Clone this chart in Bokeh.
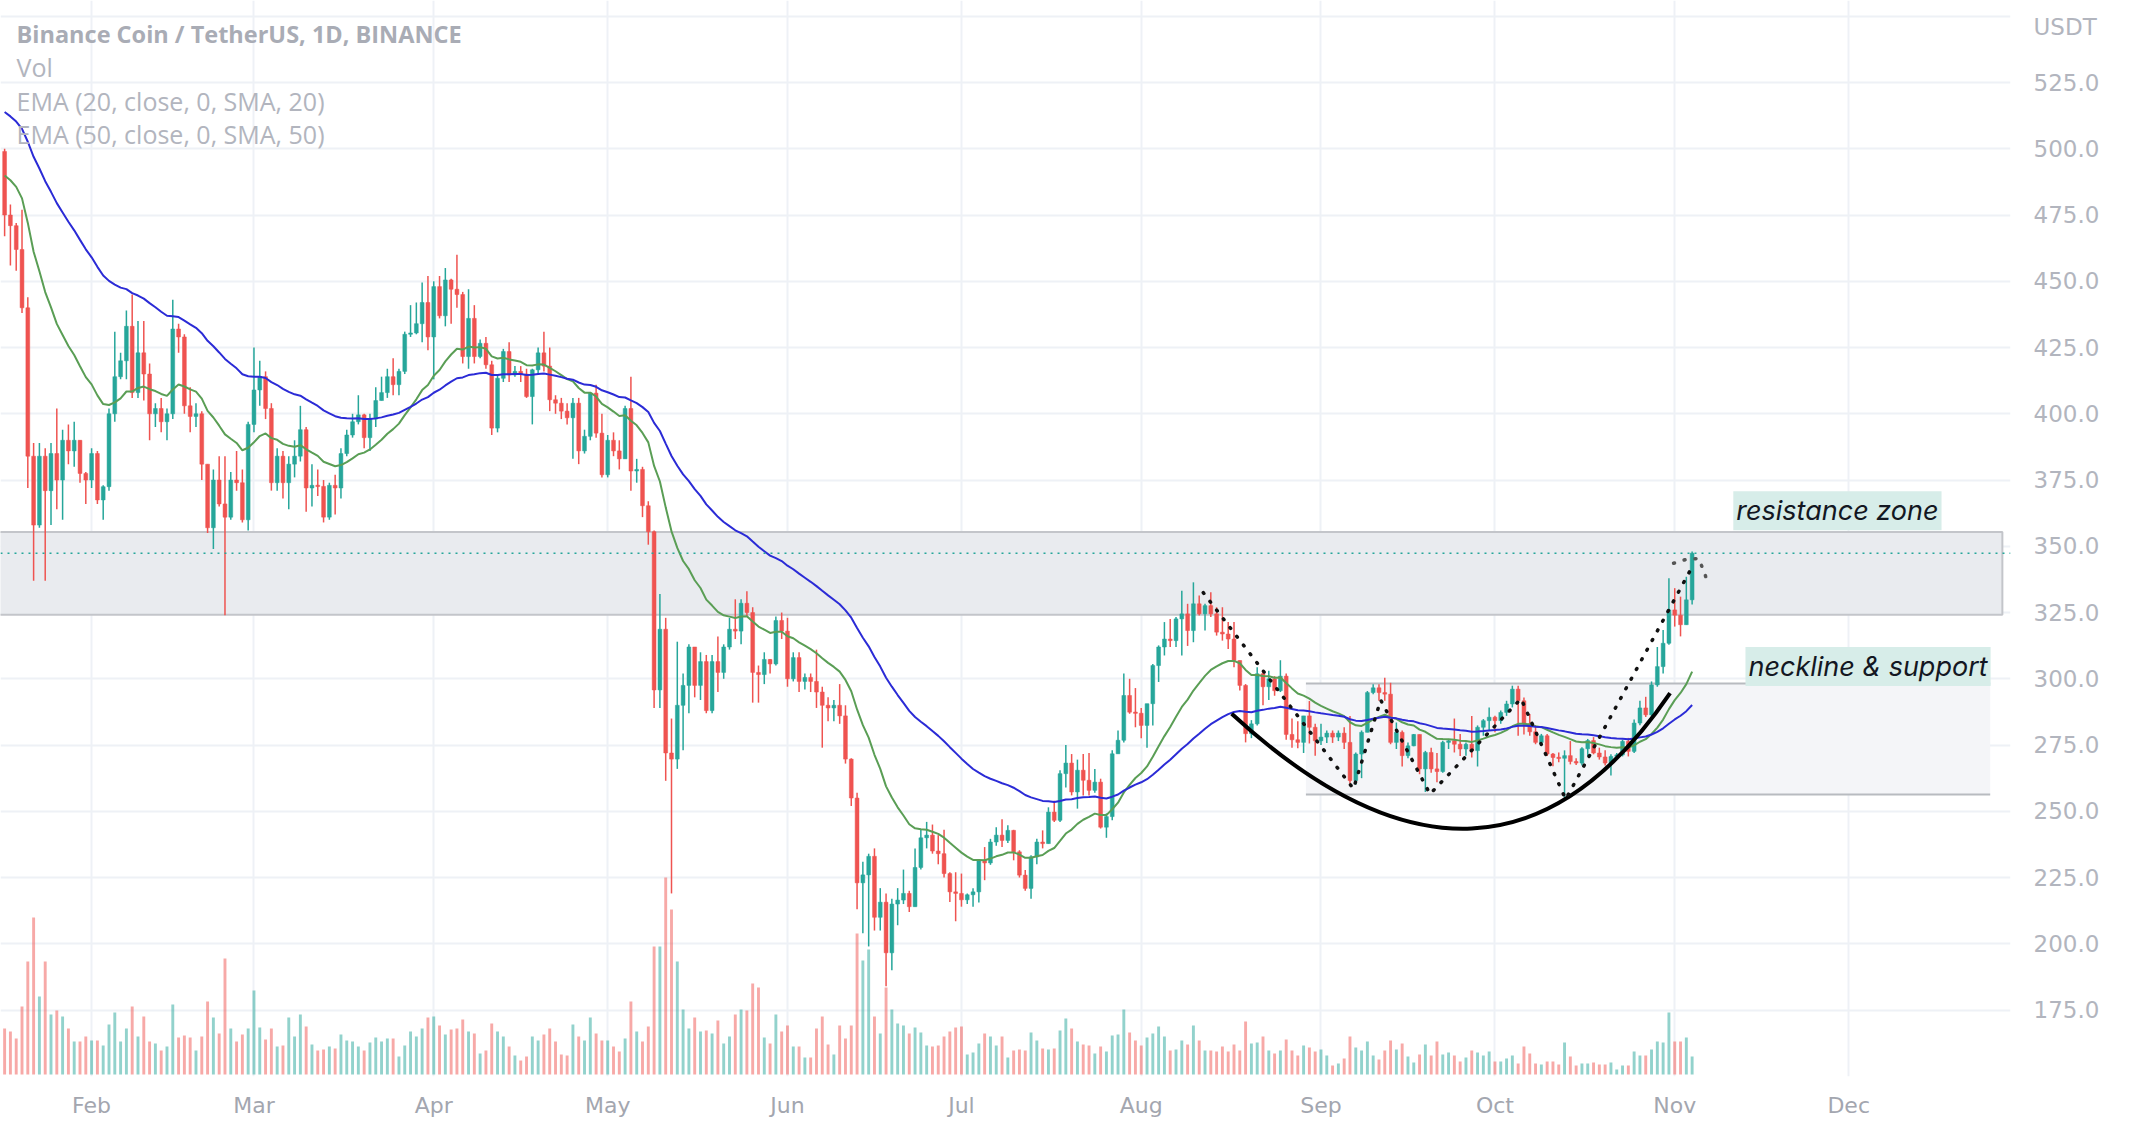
import numpy as np
import pandas as pd
from bokeh.plotting import figure
from bokeh.models import Range1d, FixedTicker, Label, Span, PrintfTickFormatter
from bokeh.embed import file_html
from bokeh.resources import INLINE

# ---------------- data (BNB/USDT daily, 2022-01-17 .. 2022-11-04) ----------------
first_open = 499.0
closes = [
    475, 471, 462, 440, 384, 358, 384, 371, 385, 375, 390, 386, 390, 377.5, 375,
    385, 367.5, 372.5, 400, 414, 420, 433, 408, 423, 415,
    400, 402, 397, 400, 432, 429, 403, 399, 400, 381,
    357, 375, 366, 361, 375, 374, 360, 396,
    409, 414, 402, 374, 384, 374, 381, 384, 394, 372, 373, 372.6,
    361, 373, 372, 385, 392, 397, 399.6, 391, 398, 405,
    408, 414, 411, 416, 430, 430.5, 434, 442, 429, 448,
    437, 450.5, 447, 445, 421.6, 436, 421.6, 426.6, 418.5, 394.6,
    413.4, 423.5, 414.7, 416, 415, 406.5, 416.6, 423, 418, 405.3,
    404, 401, 398.5, 404, 386, 391.5, 407.8, 392.7, 377, 390,
    386, 383, 402, 378.4, 379, 365.3, 355.5, 295.8, 318.7, 272,
    269.7, 290, 297.5, 312, 297.5, 306.5, 288, 306.5, 302.4, 312,
    318.7, 318, 328.5, 325, 302.4, 301.6, 307.3, 305.6, 322, 318,
    300, 308, 299, 300.5, 299, 295, 290, 289, 290, 286,
    269.7, 255, 223, 226, 233, 210, 215.7, 196.6, 215, 216.5,
    219, 214, 228.8, 240, 241, 235, 234, 226.5, 219.6, 219,
    216.6, 218.5, 219.6, 231.5, 230.5, 238.4, 241, 239, 242.8, 234.7,
    225.9, 220.9, 232.8, 238.4, 237.8, 249.7, 246.6, 264.2, 268.2, 257.3,
    265.5, 261.7, 257.9, 261, 244, 248, 271.7, 276.8, 293.7, 287.4,
    287, 282.4, 290.6, 305, 312, 315, 314.4, 322.6, 324.5, 318.2,
    328.3, 324.5, 327.6, 324.5, 317.6, 316.9, 315, 306.9, 297.5, 279.3,
    283, 301.9, 297, 300, 295.5, 301, 279, 277, 276, 286,
    281.7, 276.6, 278, 279.5, 278, 279.5, 276, 261.6, 271.6, 279.8,
    294.8, 296.6, 294.8, 294.2, 276, 279.8, 271, 274.7, 279, 266,
    272.2, 266, 265, 276, 276.6, 275.3, 273.5, 275.3, 272.9, 281.7,
    284.2, 285.5, 284.2, 287.3, 290.5, 296.1, 291.7, 283, 280, 276,
    278.5, 271.6, 270.3, 270, 271, 268.8, 268.2, 273.6, 276.7, 272,
    270.5, 268.2, 270.7, 271.3, 276.4, 272.6, 283.3, 289, 286.4, 297.7,
    304.6, 313.4, 326, 324, 320.4, 329.8, 347.4,
]
highs = [
    500, 479, 472, 477, 444, 389, 389, 387, 389, 402, 394, 396, 397, 390, 378,
    387, 386, 373, 402, 431, 423, 439, 445, 435, 435,
    419, 404, 406, 402, 443, 434, 430, 410, 404, 401,
    381, 379, 384, 384, 378, 386, 379, 397,
    425, 420, 416, 404, 387, 386, 384, 390, 403, 395, 381, 379,
    375, 374, 377, 387, 394, 400, 407, 400, 400, 410,
    414, 417, 421, 417, 431, 441, 442, 449.5, 452, 450,
    452, 455, 451, 460, 446, 447, 441, 428, 429, 420,
    415, 424.5, 427, 418, 418, 417, 417, 425, 431, 425,
    407, 406, 404, 406, 406, 394, 408, 411, 400, 392,
    393, 390, 403, 414, 383, 380, 367, 356, 332, 323,
    285, 314, 302, 313, 312, 310, 309, 309, 316, 313,
    323, 330, 330, 333, 327, 305, 310, 307.5, 323.5, 325,
    323, 310, 310, 302, 302, 311, 297, 293, 292, 298,
    290, 270, 257, 231, 234, 236, 221, 219, 217, 221,
    228, 220, 236, 243, 246, 245, 241, 243, 227, 227,
    226.5, 219, 221, 232, 236.5, 239.6, 244, 247, 244.7, 243,
    235.3, 227.8, 233.4, 239.6, 242.8, 251.5, 254, 265.5, 275, 271.6,
    269.5, 271.6, 272, 266, 262.3, 249.2, 273, 280.5, 302, 300,
    296.5, 289, 290.6, 305.6, 312.6, 321.4, 322.6, 323.3, 333.2, 328.3,
    336.4, 331.4, 328.3, 332.7, 327, 327, 321.4, 321.4, 306.9, 298,
    284.4, 304.4, 303, 303, 301, 307, 302, 285, 284, 286,
    291.6, 283, 283, 280.5, 280.5, 280.5, 281.7, 286, 272.2, 280.5,
    295.4, 297.9, 297.9, 300.4, 298.5, 283.5, 280.5, 276, 279.2, 279,
    272.8, 274, 272, 276.6, 277.3, 285, 279.2, 276, 286, 282.4,
    284.8, 289.2, 286.1, 288, 291.7, 297.4, 297.4, 292.9, 286.7, 282.4,
    279.2, 279.2, 272, 272.2, 273, 276.5, 270, 274.2, 277.3, 278,
    274, 273, 271.5, 272, 277, 277.7, 284.6, 291.7, 293.2, 299,
    312, 318.4, 337.9, 334.2, 331, 338.5, 348,
]
lows = [
    467, 456, 454, 438, 372, 337, 357, 337, 358, 364, 360, 381, 380, 374, 366,
    372, 366, 360, 371, 397, 413, 413, 406, 406, 405,
    390, 395, 393, 390, 398, 423, 400, 393, 395, 375,
    355, 349, 365, 324, 360, 371, 359, 356,
    393, 403, 398, 371, 371, 368, 364, 376, 382, 363, 365, 369,
    359, 360, 362, 368, 384, 391, 396, 387, 386, 395,
    405, 406, 407, 407, 415, 429, 430, 427, 424, 413,
    436, 433, 434, 440, 419, 417, 419, 421, 417, 392,
    393, 412, 412, 414, 412, 406, 396, 415, 416, 401,
    400, 398, 396, 383, 381, 385, 390, 391, 376, 376,
    384, 379, 383, 371, 374, 361, 350.6, 289, 289, 261.5,
    219, 266, 273, 287, 293, 292, 287, 287, 295, 300,
    311, 315, 313, 323.5, 291, 291, 298, 302, 305, 315,
    297, 299, 295, 296, 295, 289, 274, 284, 284, 283,
    268, 252, 213, 204, 199, 205, 205, 184, 190, 207,
    215, 212, 214, 228, 236, 234, 230, 225, 215.8, 208.5,
    214, 215, 214, 215.6, 224, 229.8, 237, 236.5, 238, 231.5,
    225, 220, 217, 230, 236, 237.8, 246, 246, 259, 256,
    251, 256, 256, 257, 243.5, 240, 246.6, 271.7, 276, 286.8,
    281.7, 277.6, 274, 282.4, 298.8, 308.8, 312, 312, 308.8, 312.4,
    313.8, 323.9, 318.2, 323.3, 316.3, 314.4, 311.2, 304.4, 295.6, 276,
    277.6, 282.4, 290, 292, 293.6, 295, 277, 274, 273.8, 272,
    275.6, 271, 275, 275.8, 275.8, 276.5, 273.5, 260.4, 260, 262.5,
    279.8, 294.2, 291.7, 291.7, 275.3, 273.5, 266.9, 270, 274.5, 264,
    257.3, 264.5, 261, 264.5, 273.5, 272.2, 270.9, 271, 270.3, 266.9,
    278.5, 280.5, 279.8, 283, 286, 289.2, 278.5, 279, 278.5, 275.3,
    275, 270.9, 267, 268.5, 255, 267.7, 267.5, 267.3, 270.7, 271.5,
    269.5, 267.3, 263.5, 270, 270.7, 270.7, 272, 282.5, 285.6, 285,
    297, 302, 312.8, 319.7, 316, 320.4, 328,
]
volumes = [
    46, 43, 36, 68, 113, 157, 78, 113, 60, 64,
    58, 46, 33, 33, 38, 34, 34, 29, 50, 62,
    33, 46, 68, 38, 58, 33, 31, 24, 28, 70,
    37, 39, 37, 24, 38, 73, 57, 41, 116, 46,
    33, 40, 46, 84, 47, 35, 46, 28, 29, 57,
    38, 60, 48, 30, 24, 25, 28, 26, 40, 34,
    33, 28, 24, 32, 37, 33, 36, 36, 18, 29,
    43, 38, 46, 57, 58, 49, 40, 45, 46, 55,
    43, 41, 21, 24, 51, 43, 38, 28, 19, 14,
    18, 38, 34, 40, 46, 33, 20, 19, 50, 38,
    34, 57, 41, 34, 34, 28, 23, 36, 73, 43,
    33, 48, 128, 128, 197, 165, 113, 65, 46, 57,
    43, 44, 41, 54, 31, 38, 60, 65, 64, 91,
    87, 37, 31, 60, 43, 49, 28, 28, 17, 17,
    46, 58, 30, 20, 49, 36, 49, 141, 114, 125,
    58, 41, 87, 65, 51, 49, 41, 47, 42, 29,
    28, 29, 38, 43, 47, 48, 20, 22, 31, 41,
    38, 29, 38, 17, 24, 25, 24, 42, 34, 26,
    25, 26, 44, 56,
    46, 33, 30, 29, 21, 28, 23, 39, 40, 65,
    42, 34, 29, 37, 41, 48, 38, 24, 25, 34,
    30, 49, 34, 24, 24, 23, 28, 23, 30, 24,
    53, 31, 32, 38, 24, 21, 24, 35, 24, 19,
    29, 27, 23, 25, 19, 9, 11, 16, 38, 27,
    24, 33, 19, 15, 24, 34, 25, 31, 18, 12,
    20, 30, 19, 33, 20, 22, 19, 13, 17, 24,
    22, 19, 23, 13, 13, 16, 19, 11, 28, 21,
    11, 10, 13, 13, 10, 32, 18, 9, 11, 11,
    12, 10, 10, 12, 5, 9, 9, 23, 19, 19,
    25, 33, 32, 62, 33, 33, 37, 18,
]
ema20_seed = 491.5
ema50_seed = 515.5

month_labels = ["Feb", "Mar", "Apr", "May", "Jun", "Jul", "Aug", "Sep", "Oct", "Nov", "Dec"]
price_ticks = [175, 200, 225, 250, 275, 300, 325, 350, 375, 400, 425, 450, 475, 500, 525]
grid_ticks = price_ticks + [550]
currency_label = "USDT"
currency_level = 546

legend_lines = ["Binance Coin / TetherUS, 1D, BINANCE", "Vol",
                "EMA (20, close, 0, SMA, 20)", "EMA (50, close, 0, SMA, 50)"]

# drawings (day offsets from 2022-02-01, prices)
resist_zone = dict(left=-30, right=329.5, bottom=324.2, top=355.4)
neck_zone = dict(left=209.4, right=327.4, bottom=256.3, top=298.2)
last_price = 347.4
cup_days = [196.6, 241.6, 272.2]      # start, control, end
cup_prices = [286.8, 196.3, 294.6]
zig_days = [191.7, 217.6, 222.3, 230.8, 246.5, 254.2, 276.2]
zig_prices = [332.5, 258.5, 292.0, 256.5, 292.5, 254.5, 343.0]
arc_days = [272.8, 274.9, 277.1, 277.9, 278.6]
arc_prices = [343.6, 345.0, 345.4, 341.3, 337.0]
note_texts = ["resistance zone", "neckline & support"]
note_days = [283.1, 285.2]
note_prices = [363.4, 304.6]

# ---------------- derived ----------------
n = len(closes)
dates = pd.date_range("2022-01-17", periods=n, freq="D")
ref = pd.Timestamp("2022-02-01")
days = ((dates - ref) / pd.Timedelta(days=1)).to_numpy().astype(float)
month_starts = pd.date_range("2022-02-01", periods=len(month_labels), freq="MS")
month_days = [int((m - ref) / pd.Timedelta(days=1)) for m in month_starts]

o = np.array([first_open] + closes[:-1], dtype=float)
c = np.array(closes, dtype=float)
h = np.maximum(np.array(highs, dtype=float), np.maximum(o, c))
l = np.minimum(np.array(lows, dtype=float), np.minimum(o, c))
UP, DN = "#26a69a", "#ef5350"
cols = np.where(c >= o, UP, DN)
btop = np.maximum(o, c)
bbot = np.minimum(o, c)
small = (btop - bbot) < 0.5
mid = (btop + bbot) / 2
btop = np.where(small, mid + 0.25, btop)
bbot = np.where(small, mid - 0.25, bbot)


def ema(vals, seed, length):
    a = 2.0 / (length + 1)
    out, prev = [], seed
    for v in vals:
        prev = prev + a * (v - prev)
        out.append(prev)
    return out


ema20 = ema(closes, ema20_seed, 20)
ema50 = ema(closes, ema50_seed, 50)

# ---------------- figure ----------------
FRAME_W, FRAME_H = 2010, 1076
x0 = -91.1 / 5.799
x1 = x0 + FRAME_W / 5.799
p = figure(width=2132, height=1132, x_range=Range1d(x0, x1), y_range=Range1d(149.92, 555.96),
           output_backend="svg", toolbar_location=None, y_axis_location="right",
           min_border_left=0, min_border_right=122, min_border_top=0, min_border_bottom=56)
p.outline_line_color = None
p.background_fill_color = "white"
p.border_fill_color = "white"
p.extra_y_ranges = {"vol": Range1d(-2, FRAME_H - 2)}

# grid
p.xgrid.ticker = FixedTicker(ticks=month_days)
p.ygrid.ticker = FixedTicker(ticks=grid_ticks)
p.grid.grid_line_color = "#eef1f6"
p.grid.grid_line_width = 2

# axes
yax = p.yaxis[0]
yax.ticker = FixedTicker(ticks=price_ticks + [currency_level])
yax.formatter = PrintfTickFormatter(format="%.1f")
yax.major_label_overrides = {currency_level: currency_label}
xax = p.xaxis[0]
xax.ticker = FixedTicker(ticks=month_days)
xax.major_label_overrides = {d: lab for d, lab in zip(month_days, month_labels)}
for ax in (xax, yax):
    ax.axis_line_color = None
    ax.major_tick_line_color = None
    ax.minor_tick_line_color = None
    ax.major_tick_out = 0
    ax.major_tick_in = 0
    ax.minor_tick_out = 0
    ax.major_label_text_font = "DejaVu Sans"
yax.major_label_text_font_size = "23px"
yax.major_label_text_color = "#b2b5be"
yax.major_label_standoff = 23
xax.major_label_text_font_size = "22px"
xax.major_label_text_color = "#a3a6af"
xax.major_label_standoff = 16

# zones
p.quad(left=[resist_zone["left"]], right=[resist_zone["right"]], bottom=[resist_zone["bottom"]],
       top=[resist_zone["top"]], fill_color="#e9ebef", line_color="#c3c5ca", line_width=2)
p.quad(left=[neck_zone["left"]], right=[neck_zone["right"]], bottom=[neck_zone["bottom"]],
       top=[neck_zone["top"]], fill_color="#f4f5f8", line_color=None)
p.segment(x0=[neck_zone["left"]] * 2, x1=[neck_zone["right"]] * 2,
          y0=[neck_zone["top"], neck_zone["bottom"]], y1=[neck_zone["top"], neck_zone["bottom"]],
          line_color="#b8bbc0", line_width=2)

# volume
p.vbar(x=days, width=0.5, top=volumes, bottom=0, y_range_name="vol",
       fill_color=cols, line_color=None, fill_alpha=0.5)

# candles
p.segment(x0=days, x1=days, y0=l, y1=h, line_color=cols, line_width=1.5)
p.vbar(x=days, width=0.66, top=btop, bottom=bbot, fill_color=cols, line_color=cols, line_width=0.5)

# EMAs
p.line(days, ema20, line_color="#5a9e55", line_width=2)
p.line(days, ema50, line_color="#2b2bd6", line_width=2)

# last price line
p.add_layout(Span(location=last_price, dimension="width", line_color=UP,
                  line_dash="2 5", line_width=1.5))

# drawings
p.quadratic(x0=[cup_days[0]], y0=[cup_prices[0]], cx=[cup_days[1]], cy=[cup_prices[1]],
            x1=[cup_days[2]], y1=[cup_prices[2]], line_color="black", line_width=4)
p.line(zig_days, zig_prices, line_color="#111111", line_width=3.5, line_dash="1 10", line_cap="round")
p.line(arc_days, arc_prices, line_color="#555555", line_width=3.5, line_dash="1 10", line_cap="round")

for t, dx, py in zip(note_texts, note_days, note_prices):
    p.add_layout(Label(x=dx, y=py, text=t, text_font="Inter", text_font_style="italic",
                       text_font_size="27px", text_color="#131722", text_baseline="middle",
                       background_fill_color="#d7ede9", padding=3))

# legend texts
leg_y = [33, 66, 100, 133]
for i, (t, yy) in enumerate(zip(legend_lines, leg_y)):
    p.add_layout(Label(x=16, y=FRAME_H - yy, x_units="screen", y_units="screen", text=t,
                       text_font="Open Sans", text_font_size="25px" if i else "23.5px",
                       text_font_style="bold" if i == 0 else "normal",
                       text_color="#a9acb5" if i == 0 else "#b2b5be", text_baseline="middle"))

open("out.html", "w").write(file_html(p, INLINE))
